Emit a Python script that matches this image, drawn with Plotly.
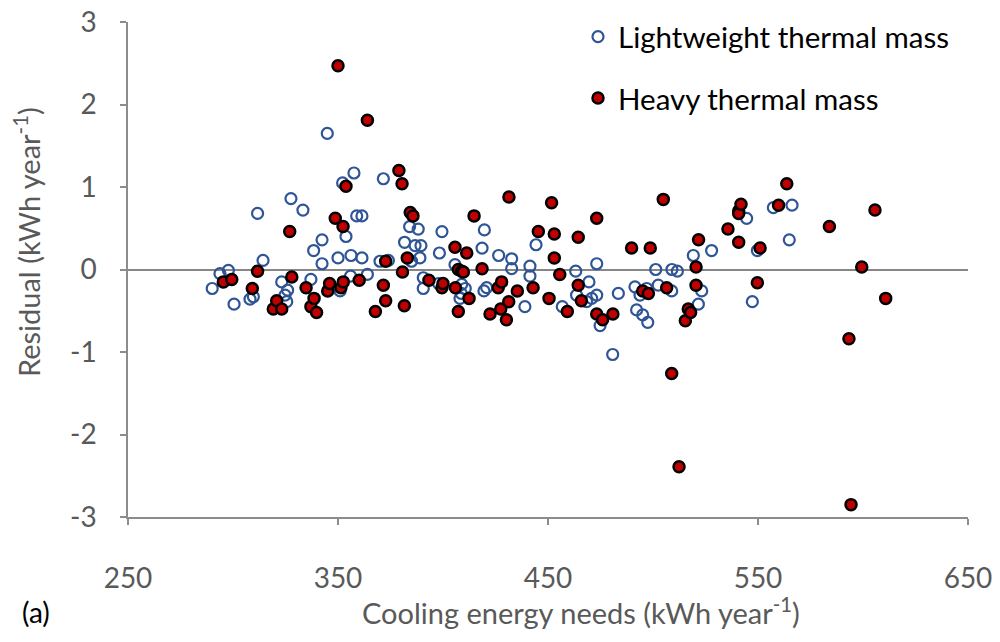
import plotly.graph_objects as go

# Lightweight thermal mass (open blue circles)
light_x = [290.1, 293.8, 297.8, 300.5, 308.1, 309.7, 311.7, 314.3, 323.2, 326.0,
           324.8, 325.6, 327.6, 333.3, 337.1, 338.4, 342.4, 342.4, 344.9, 350.0,
           351.0, 352.2, 353.8, 356.2, 356.0, 357.6, 358.9, 361.4, 361.4, 364.0,
           370.0, 374.0, 371.6, 381.7, 384.1, 385.0, 386.7, 388.2, 389.5, 389.0,
           390.6, 390.6, 397.9, 398.3, 399.5, 405.7, 408.1, 408.7, 410.6, 408.9,
           418.6, 419.7, 419.5, 420.8, 426.5, 432.7, 432.7, 439.0, 441.4, 441.4,
           444.3, 456.8, 463.2, 463.6, 468.4, 469.5, 470.8, 473.2, 473.2, 474.8,
           480.8, 483.5, 491.4, 493.8, 497.0, 492.2, 495.1, 497.5, 501.3, 502.5,
           508.9, 509.0, 511.6, 519.2, 521.6, 523.2, 527.9, 544.6, 547.3, 549.7,
           557.3, 564.9, 566.2]
light_y = [-0.23, -0.05, -0.01, -0.42, -0.36, -0.33, 0.68, 0.11, -0.15, -0.25,
           -0.31, -0.39, 0.86, 0.72, -0.12, 0.23, 0.36, 0.07, 1.65, 0.14,
           -0.26, 1.05, 0.40, 0.17, -0.08, 1.17, 0.65, 0.65, 0.14, -0.06,
           0.10, 0.11, 1.10, 0.33, 0.52, 0.10, 0.29, 0.49, 0.29, 0.14,
           -0.10, -0.23, -0.17, 0.20, 0.46, 0.06, -0.35, -0.29, -0.23, -0.18,
           0.26, 0.48, -0.26, -0.22, 0.17, 0.13, 0.01, -0.45, 0.04, -0.08,
           0.30, -0.45, -0.02, -0.31, -0.39, -0.15, -0.35, -0.31, 0.07, -0.68,
           -1.03, -0.29, -0.21, -0.31, -0.23, -0.49, -0.55, -0.64, 0.00, -0.19,
           -0.26, 0.00, -0.02, 0.17, -0.42, -0.26, 0.23, 0.62, -0.39, 0.23,
           0.75, 0.36, 0.78]

# Heavy thermal mass (filled red circles)
heavy_x = [295.4, 299.4, 309.2, 311.7, 319.2, 320.8, 323.2, 327.0, 328.0, 334.8,
           337.1, 338.6, 339.8, 345.1, 346.0, 348.7, 350.0, 351.4, 352.4, 352.5,
           353.8, 360.1, 364.0, 367.8, 371.6, 372.7, 372.7, 379.0, 380.5, 380.7,
           381.6, 383.0, 384.4, 385.7, 393.3, 399.5, 400.0, 405.7, 405.9, 407.3,
           407.3, 408.9, 409.7, 411.3, 412.4, 414.8, 418.6, 422.4, 426.3, 427.5,
           427.9, 430.2, 431.3, 431.4, 435.4, 442.9, 445.4, 450.5, 451.7, 453.0,
           453.0, 455.6, 459.2, 464.4, 464.4, 465.9, 473.2, 473.2, 476.0, 480.9,
           489.8, 495.1, 497.8, 498.7, 504.9, 506.5, 508.9, 512.4, 515.4, 516.8,
           517.9, 520.5, 520.5, 521.7, 535.7, 540.8, 540.8, 541.9, 540.8, 549.7,
           551.0, 559.8, 563.7, 584.0, 593.3, 594.3, 599.4, 605.7, 610.8]
heavy_y = [-0.15, -0.12, -0.23, -0.02, -0.48, -0.38, -0.48, 0.46, -0.09, -0.22,
           -0.45, -0.35, -0.52, -0.26, -0.17, 0.62, 2.47, -0.22, 0.52, -0.15,
           1.01, -0.13, 1.81, -0.51, -0.19, 0.10, -0.38, 1.20, 1.04, -0.03,
           -0.44, 0.14, 0.69, 0.65, -0.13, -0.22, -0.17, 0.27, -0.22, -0.51,
           0.00, -0.02, -0.03, 0.20, -0.35, 0.65, 0.01, -0.54, -0.22, -0.48,
           -0.15, -0.61, -0.39, 0.88, -0.26, -0.22, 0.46, -0.35, 0.81, 0.43,
           0.14, -0.06, -0.51, 0.39, -0.19, -0.38, 0.62, -0.54, -0.61, -0.54,
           0.26, -0.26, -0.29, 0.26, 0.85, -0.22, -1.26, -2.39, -0.62, -0.48,
           -0.52, 0.03, -0.19, 0.36, 0.49, 0.71, 0.68, 0.79, 0.33, -0.16,
           0.26, 0.78, 1.04, 0.52, -0.84, -2.85, 0.03, 0.72, -0.35]

x_ticks = [250, 350, 450, 550, 650]
x_labels = ["250", "350", "450", "550", "650"]
y_ticks = [-3, -2, -1, 0, 1, 2, 3]
y_labels = ["-3", "-2", "-1", "0", "1", "2", "3"]

x_title = "Cooling energy needs (kWh year<sup>-1</sup>)"
y_title = "Residual (kWh year<sup>-1</sup>)"
panel_label = "(a)"

FONT = "Lato"
GREY = "#595959"
AXIS = "#8c8c8c"

# The page body adds an 8 px offset, so the figure is laid out in
# page pixels minus 8.
OFF = 8
W, H = 1000 - OFF, 642 - OFF
L, R, T, B = 128 - OFF, W - (968 - OFF), 22 - OFF, H - (517 - OFF)
PW, PH = W - L - R, H - T - B


def px(xp):
    return (xp - OFF - L) / PW


def py(yp):
    return (H - B - (yp - OFF)) / PH


fig = go.Figure()
fig.add_trace(go.Scatter(
    x=light_x, y=light_y, mode="markers", name="Lightweight thermal mass",
    legendgroup="a",
    marker=dict(symbol="circle-open", size=11, color="#2f5597",
                line=dict(width=2.2, color="#2f5597")),
))
fig.add_trace(go.Scatter(
    x=heavy_x, y=heavy_y, mode="markers", name="Heavy thermal mass",
    legendgroup="b",
    marker=dict(symbol="circle", size=11, color="#c00000",
                line=dict(width=2.5, color="#000000")),
))

fig.update_layout(
    width=W, height=H,
    paper_bgcolor="white", plot_bgcolor="white",
    margin=dict(l=L, r=R, t=T, b=B, autoexpand=False),
    font=dict(family=FONT, size=27, color=GREY),
    showlegend=True,
    legend=dict(x=px(578), y=py(11), xanchor="left", yanchor="top",
                font=dict(family=FONT, size=29.5, color="#000000"),
                traceorder="grouped", tracegroupgap=20,
                bgcolor="rgba(0,0,0,0)"),
    xaxis=dict(range=[250, 650], tickvals=x_ticks, ticktext=x_labels,
               showgrid=False, zeroline=False, automargin=False,
               showline=True, linecolor=AXIS, linewidth=1.5,
               ticks="outside", ticklen=6, tickwidth=1.5, tickcolor=AXIS,
               tickfont=dict(family=FONT, size=28, color=GREY),
               ticklabelstandoff=30, ticklabeloverflow="allow"),
    yaxis=dict(range=[-3, 3], tickvals=y_ticks, ticktext=y_labels,
               showgrid=False, automargin=False,
               zeroline=True, zerolinecolor="#868686", zerolinewidth=2,
               showline=True, linecolor=AXIS, linewidth=1.5,
               ticks="outside", ticklen=6, tickwidth=1.5, tickcolor=AXIS,
               tickfont=dict(family=FONT, size=28, color=GREY),
               ticklabelstandoff=18, ticklabeloverflow="allow"),
    annotations=[
        dict(text=x_title, x=px(581), y=py(611), xref="paper", yref="paper",
             xanchor="center", yanchor="middle", showarrow=False,
             font=dict(family=FONT, size=29, color=GREY)),
        dict(text=y_title, x=px(27), y=py(242), xref="paper", yref="paper",
             xanchor="center", yanchor="middle", showarrow=False, textangle=-90,
             font=dict(family=FONT, size=29, color=GREY)),
        dict(text=panel_label, x=px(36), y=py(612), xref="paper", yref="paper",
             xanchor="center", yanchor="middle", showarrow=False,
             font=dict(family=FONT, size=28, color="#000000")),
    ],
)

fig.write_html("out.html")
